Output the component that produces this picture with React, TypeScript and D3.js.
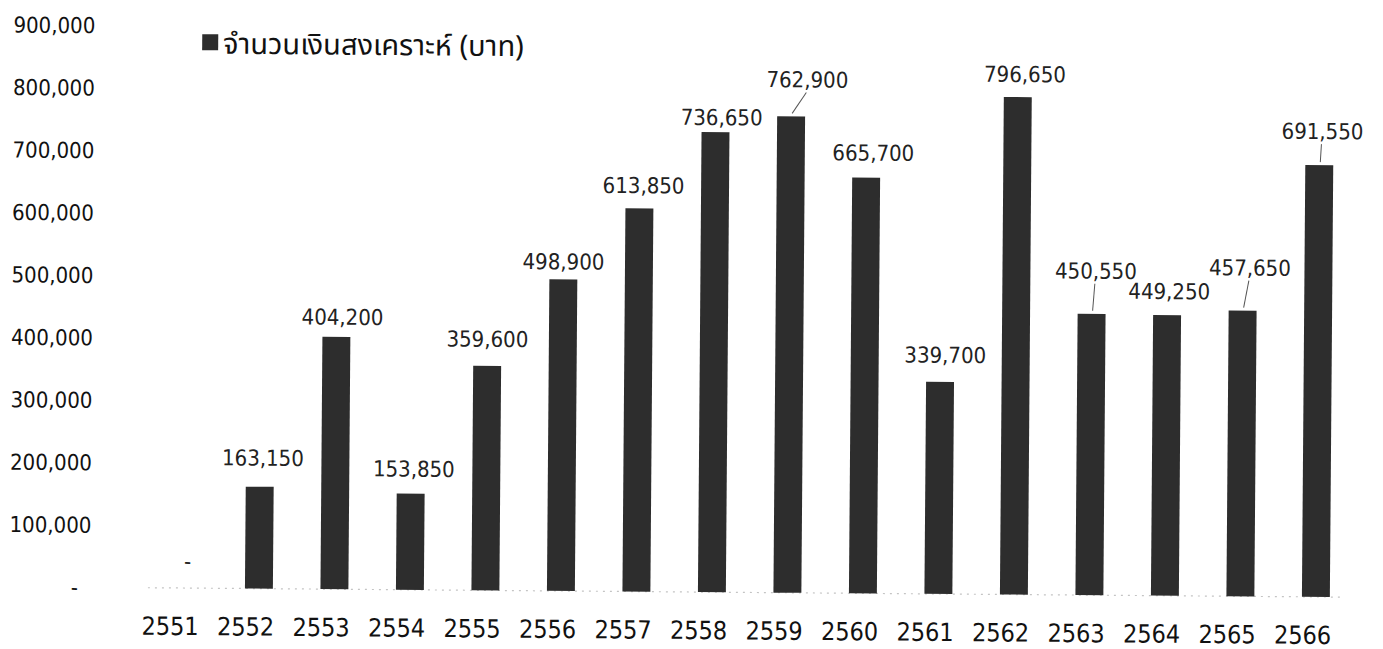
import React from "react";
import * as d3 from "d3";

const years = ["2551","2552","2553","2554","2555","2556","2557","2558","2559","2560","2561","2562","2563","2564","2565","2566"];
const amounts = [0,163150,404200,153850,359600,498900,613850,736650,762900,665700,339700,796650,450550,449250,457650,691550];
const yTicks = [0,100000,200000,300000,400000,500000,600000,700000,800000,900000];
const legendLabel = "จำนวนเงินสงเคราะห์ (บาท)";
// label nudges (px) relative to bar centre / bar top
const labelDx = [4,3,6,3,0,0,4,6,16,7,5,7,4,2,7,3];
const labelDy = [-27,-29,-20,-25,-27,-18,-23,-15,-37,-25,-27,-23,-43,-24,-43,-34];
const hasLeader = [false,false,false,false,false,false,false,false,true,false,false,false,true,false,true,true];

const W = 1383, H = 649;
const axisFont = "'DejaVu Sans Condensed', 'DejaVu Sans', sans-serif";
const thaiFont = "'Noto Sans Thai', 'Noto Sans Thai Looped', 'Loma', 'Garuda', 'Tlwg Typist', 'Noto Sans', 'DejaVu Sans', sans-serif";

export default function App() {
  const x = d3.scaleBand<string>().domain(years).range([147.75, 1355.75]).paddingInner(0.63).paddingOuter(0.315);
  const y = d3.scaleLinear().domain([0, 900000]).range([592, 30]);
  const fmt = d3.format(",");
  const bw = x.bandwidth();
  const barFill = "#2d2d2d";
  return (
    <svg width={W} height={H} style={{ position: "absolute", left: 0, top: 0, background: "#fff" }}>
      <g transform={`rotate(0.45 ${W / 2} ${H / 2})`}>
        {yTicks.map((t) => (
          <text key={t} x={t === 0 ? 80 : 93} y={y(t)} dy="0.36em" textAnchor="end"
            fontFamily={axisFont} fontSize={22} fill="#111">
            {t === 0 ? "-" : fmt(t)}
          </text>
        ))}
        <line x1={150} x2={1345} y1={y(0)} y2={y(0)} stroke="#c4c4c4" strokeWidth={1.2} strokeDasharray="2 5" />
        {years.map((yr, i) => amounts[i] > 0 ? (
          <rect key={yr} x={x(yr)!} y={y(amounts[i])} width={bw} height={y(0) - y(amounts[i])} fill={barFill} />
        ) : null)}
        {years.map((yr, i) => {
          const cx = x(yr)! + bw / 2;
          const top = y(amounts[i]);
          const lx = cx + labelDx[i];
          const ly = top + labelDy[i];
          return (
            <g key={"l" + yr}>
              {hasLeader[i] && (
                <line x1={cx + 1} y1={top - 3} x2={lx - 1} y2={ly + 13} stroke="#555" strokeWidth={1} />
              )}
              <text x={lx} y={ly} dy="0.36em" textAnchor="middle" fontFamily={axisFont}
                fontSize={22} fill="#222">
                {amounts[i] === 0 ? "-" : fmt(amounts[i])}
              </text>
            </g>
          );
        })}
        {years.map((yr) => (
          <text key={"x" + yr} x={x(yr)! + bw / 2 - 13} y={630} dy="0.36em" textAnchor="middle"
            fontFamily={axisFont} fontSize={25} fill="#111">
            {yr}
          </text>
        ))}
        <rect x={200} y={38} width={16} height={16} fill={barFill} />
        <text x={221} y={47} dy="0.36em" fontFamily={thaiFont} fontSize={29} fill="#111">{legendLabel}</text>
      </g>
    </svg>
  );
}
